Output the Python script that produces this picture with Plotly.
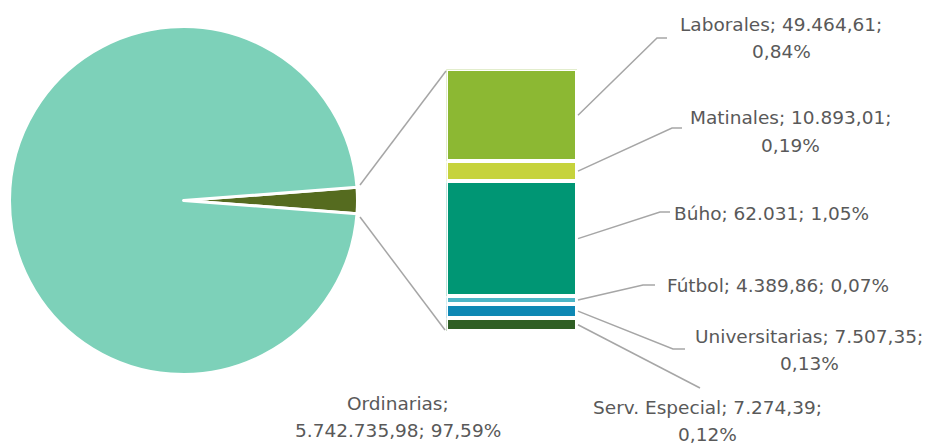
import math
import plotly.graph_objects as go

# ---- data ----
pie_labels = ["Otros", "Ordinarias"]
ordinarias_value = 5742735.98
bar_categories = ["Serv. Especial", "Universitarias", "Fútbol", "Búho", "Matinales", "Laborales"]
bar_values = [7274.39, 7507.35, 4389.86, 62031, 10893.01, 49464.61]
bar_colors = ["#2F5F24", "#0E88B4", "#4DB6C6", "#009674", "#C6D33C", "#8CB833"]
pie_colors = ["#556B1F", "#7DD1B9"]

W, H = 927, 444
others_total = sum(bar_values)
grand_total = others_total + ordinarias_value


def fmt_num(v):
    if abs(v - round(v)) < 1e-9:
        s = f"{int(round(v)):,}".replace(",", ".")
    else:
        s = f"{v:,.2f}"
        s = s.replace(",", "X").replace(".", ",").replace("X", ".")
    return s


def fmt_pct(v):
    return f"{v / grand_total * 100:.2f}".replace(".", ",") + "%"


def px(x):
    return x / W


def py(y):
    return 1 - y / H


fig = go.Figure()

# pie: small slice centered at 3 o'clock
others_angle = others_total / grand_total * 360
fig.add_trace(go.Pie(
    labels=pie_labels,
    values=[others_total, ordinarias_value],
    sort=False,
    direction="clockwise",
    rotation=90 - others_angle / 2,
    marker=dict(colors=pie_colors, line=dict(color="white", width=3)),
    textinfo="none",
    hoverinfo="label+value+percent",
    domain=dict(x=[px(9.5), px(357.5)], y=[py(374.5), py(26.5)]),
    showlegend=False,
))

# stacked bar
for cat, val, col in zip(bar_categories, bar_values, bar_colors):
    fig.add_trace(go.Bar(
        x=["Otros"], y=[val], name=cat,
        marker=dict(color=col, line=dict(color="white", width=3.5)),
        xaxis="x", yaxis="y", showlegend=False,
    ))

bar_top, bar_bot = 69.5, 331.5
bar_left, bar_right = 446.5, 577.5

fig.update_layout(
    width=W, height=H,
    margin=dict(l=0, r=0, t=0, b=0),
    paper_bgcolor="white", plot_bgcolor="rgba(0,0,0,0)",
    barmode="stack", bargap=0,
    xaxis=dict(domain=[px(bar_left), px(bar_right)], visible=False, fixedrange=True),
    yaxis=dict(domain=[py(bar_bot), py(bar_top)], range=[0, others_total], visible=False, fixedrange=True),
    font=dict(family="DejaVu Sans, sans-serif", color="#595959", size=18.5),
)

line_style = dict(color="#A6A6A6", width=1.5)

# connector lines pie -> bar
shapes = [
    dict(type="line", xref="paper", yref="paper", x0=px(360), y0=py(185), x1=px(446), y1=py(71), line=line_style),
    dict(type="line", xref="paper", yref="paper", x0=px(360), y0=py(217), x1=px(445), y1=py(330), line=line_style),
]

# label layout (pixel positions of elbow/end and text lines)
LINE_GAP = 27
label_layout = {
    "Laborales": dict(elbow=(657, 38), end=(667, 38), text=(781, 24), two=True),
    "Matinales": dict(elbow=(672, 128), end=(682, 128), text=(790, 118), two=True),
    "Búho": dict(elbow=(660, 212), end=(670, 212), text=(771, 213), two=False),
    "Fútbol": dict(elbow=(643, 285), end=(655, 285), text=(778, 285), two=False),
    "Universitarias": dict(elbow=(673, 349), end=(685, 349), text=(809, 336), two=True),
    "Serv. Especial": dict(elbow=(700, 388), end=(700, 388), text=(707, 407), two=True),
}


def add_text(lines, x, y, annotations):
    for i, line in enumerate(lines):
        annotations.append(dict(x=px(x), y=py(y + i * LINE_GAP), xref="paper", yref="paper",
                                text=line, showarrow=False, xanchor="center", yanchor="middle"))


cum = 0
annotations = []
for cat, val in zip(bar_categories, bar_values):
    mid = cum + val / 2
    cum += val
    y_start = bar_top + (1 - mid / others_total) * (bar_bot - bar_top)
    lay = label_layout[cat]
    ex, ey = lay["elbow"]
    nx, ny = lay["end"]
    path = f"M {px(578)},{py(y_start)} L {px(ex)},{py(ey)} L {px(nx)},{py(ny)}"
    shapes.append(dict(type="path", xref="paper", yref="paper", path=path, line=line_style))
    if lay["two"]:
        lines = [f"{cat}; {fmt_num(val)};", fmt_pct(val)]
    else:
        lines = [f"{cat}; {fmt_num(val)}; {fmt_pct(val)}"]
    tx, ty = lay["text"]
    add_text(lines, tx, ty, annotations)

add_text(["Ordinarias;", f"{fmt_num(ordinarias_value)}; {fmt_pct(ordinarias_value)}"], 398, 403, annotations)

fig.update_layout(shapes=shapes, annotations=annotations)

fig.write_html("out.html", config={"displayModeBar": False},
               post_script="document.body.style.margin='0';document.body.style.padding='0';")
